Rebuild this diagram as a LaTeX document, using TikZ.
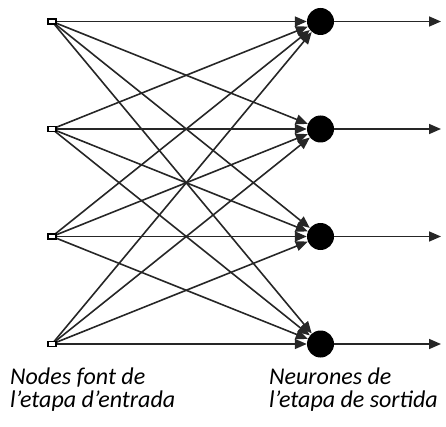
\documentclass[tikz,border=0pt]{standalone}
\usepackage{fontspec}
\setmainfont{Carlito}
\usetikzlibrary{arrows.meta}
\begin{document}
\begin{tikzpicture}[x=1pt,y=-1pt,
  inputnode/.style={draw=black,fill=white,line width=1.2pt,minimum width=8pt,minimum height=5pt,inner sep=0pt},
  neuron/.style={circle,fill=black,minimum size=27pt,inner sep=0pt},
  link/.style={draw=black!85,line width=1.6pt,-{Triangle[length=12pt,width=10pt]}},
  caption/.style={anchor=base west,font=\fontsize{24}{24}\selectfont\itshape,inner sep=0pt}]
  \useasboundingbox (0,0) rectangle (446,427);
  % output neurons and free ends of their output arrows
  \foreach \i/\y in {1/21.5,2/129,3/236.5,4/344}{
    \node[neuron] (n\i) at (320.5,\y) {};
    \coordinate (o\i) at (441,\y);
    \coordinate (in\i) at (52,\y);
  }
  % connections: every input to every neuron
  \foreach \i in {1,...,4}{
    \foreach \j in {1,...,4}{
      \draw[link] (in\i) -- (n\j);
    }
    \draw[link] (n\i) -- (o\i);
  }
  % input source nodes
  \foreach \i/\y in {1/21.5,2/129,3/236.5,4/344}{
    \node[inputnode] (s\i) at (52,\y) {};
  }
  % layer captions
  \node[caption] (c1) at (10,384) {Nodes font de};
  \node[caption] (c2) at (10,407) {l’etapa d’entrada};
  \node[caption] (c3) at (269,384) {Neurones de};
  \node[caption] (c4) at (269,407) {l’etapa de sortida};
\end{tikzpicture}
\end{document}
